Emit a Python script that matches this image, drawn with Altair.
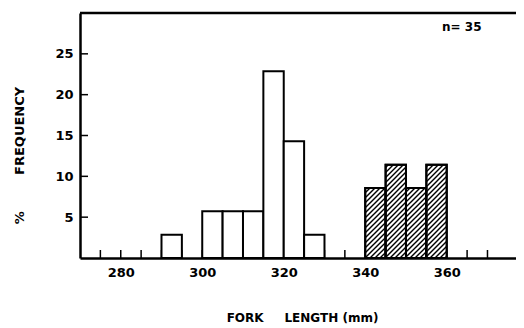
import altair as alt
import pandas as pd

# ---- data ----
bin_start = [290, 300, 305, 310, 315, 320, 325, 340, 345, 350, 355]
percent = [2.86, 5.71, 5.71, 5.71, 22.86, 14.29, 2.86, 8.57, 11.43, 8.57, 11.43]
group = ["open"] * 7 + ["hatched"] * 4
bin_width = 5
x_tick_values = list(range(275, 375, 5))
x_label_values = [280, 300, 320, 340, 360]
y_tick_values = [5, 10, 15, 20, 25]
x_domain = [270, 377]
y_domain = [0, 30]
sample_note = "n= 35"
x_title = "FORK\u00a0\u00a0\u00a0\u00a0\u00a0LENGTH\u00a0(mm)"
y_title = "%" + "\u00a0" * 8 + "FREQUENCY"

W, H = 436, 245
FONT = "DejaVu Sans"

bars = pd.DataFrame({
    "start": bin_start,
    "end": [s + bin_width for s in bin_start],
    "pct": percent,
    "base": 0.0,
    "group": group,
})

kx = W / (x_domain[1] - x_domain[0])
ky = H / (y_domain[1] - y_domain[0])

# hatch segments (45 deg, pixel spacing), clipped to each hatched bar
spacing = 5.0
rows = []
for _, b in bars[bars.group == "hatched"].iterrows():
    X0 = (b.start - x_domain[0]) * kx
    X1 = (b.end - x_domain[0]) * kx
    Hp = b.pct * ky
    k = int((X0 - Hp) // spacing) - 1
    while k * spacing <= X1:
        c = k * spacing
        xa, xb = max(X0, c), min(X1, c + Hp)
        if xb - xa > 0.5:
            rows.append({
                "start": x_domain[0] + xa / kx, "end": x_domain[0] + xb / kx,
                "pct": (xa - c) / ky, "base": (xb - c) / ky,
            })
        k += 1
hatch = pd.DataFrame(rows)

tick_len_y = 8 / ky
tick_len_x = 8 / kx
xt = pd.DataFrame({"start": x_tick_values, "pct": 0.0, "base": tick_len_y})
yt = pd.DataFrame({"pct": y_tick_values, "start": float(x_domain[0]), "end": x_domain[0] + tick_len_x})
frame = pd.DataFrame({"start": [x_domain[0]], "end": [x_domain[1]], "pct": [y_domain[1]]})

xs = alt.Scale(domain=x_domain, nice=False, zero=False)
ys = alt.Scale(domain=y_domain, nice=False, zero=True)

x_axis = alt.Axis(values=x_label_values, ticks=False, grid=False, domainColor="black",
                  domainWidth=2.5, labelFont=FONT, labelFontWeight="bold", labelFontSize=13,
                  labelColor="black", labelPadding=8, title=x_title,
                  titleFont=FONT, titleFontWeight="bold", titleFontSize=12, titleColor="black",
                  titleY=54, titleX=222, format="d")
y_axis = alt.Axis(values=y_tick_values, ticks=False, grid=False, domainColor="black",
                  domainWidth=2.5, labelFont=FONT, labelFontWeight="bold", labelFontSize=13,
                  labelColor="black", labelPadding=7, title=y_title,
                  titleFont=FONT, titleFontWeight="bold", titleFontSize=13, titleColor="black",
                  titleAngle=270, titleX=-54, titleY=142, titleAlign="center")

X = alt.X("start:Q", scale=xs, axis=x_axis)
Y = alt.Y("pct:Q", scale=ys, axis=y_axis)

base_bars = alt.Chart(bars).mark_bar(fill="white", stroke="black", strokeWidth=2).encode(
    x=X, x2="end:Q", y=Y, y2="base:Q",
)
xticks = alt.Chart(xt).mark_rule(color="black", strokeWidth=1.5).encode(
    x=X, y=Y, y2="base:Q",
)
yticks = alt.Chart(yt).mark_rule(color="black", strokeWidth=1.5).encode(
    y=Y, x=X, x2="end:Q",
)
hatch_layer = alt.Chart(hatch).mark_rule(color="black", strokeWidth=1.4).encode(
    x=X, x2="end:Q", y=Y, y2="base:Q",
)
outline = alt.Chart(bars).transform_filter(alt.datum.group == "hatched").mark_bar(
    fillOpacity=0, stroke="black", strokeWidth=2).encode(
    x=X, x2="end:Q", y=Y, y2="base:Q",
)
top_line = alt.Chart(frame).mark_rule(color="black", strokeWidth=2.5).encode(
    x=X, x2="end:Q", y=Y,
)
note = alt.Chart(pd.DataFrame({"txt": [sample_note]})).mark_text(
    font=FONT, fontWeight="bold", fontSize=12, align="left", baseline="middle", color="black"
).encode(x=alt.value(362), y=alt.value(14), text="txt:N")

chart = alt.layer(xticks, yticks, base_bars, hatch_layer, outline, top_line, note).properties(
    width=W, height=H, autosize="none",
    padding={"left": 72, "top": 5, "right": 0, "bottom": 70},
).configure_view(stroke=None)

chart.save("out.html", embed_options={"renderer": "svg", "actions": False})
